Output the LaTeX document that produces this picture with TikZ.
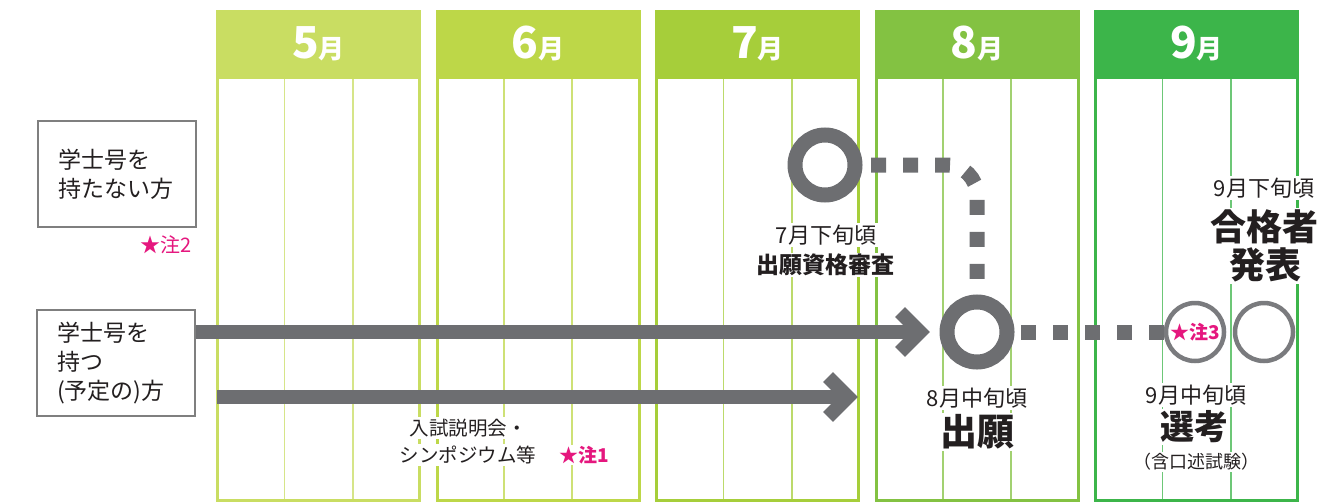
\documentclass[tikz,border=0pt]{standalone}
\usepackage{fontspec}
\setmainfont{Noto Sans CJK JP}
\usetikzlibrary{calc}
\definecolor{dg}{HTML}{6D6E71}
\definecolor{rg}{HTML}{7A7B7E}
\definecolor{bx}{HTML}{7F7F7F}
\definecolor{pk}{HTML}{E5177E}
\definecolor{tx}{HTML}{231F20}
\definecolor{cA}{HTML}{C9DD62}
\definecolor{cB}{HTML}{BDD748}
\definecolor{cC}{HTML}{A6CE3A}
\definecolor{cD}{HTML}{83C242}
\definecolor{cE}{HTML}{3CB54A}
\tikzset{
  monthlabel/.style={anchor=base, text=white, inner sep=0pt},
  sidebox/.style={draw=bx, line width=2.5pt, fill=white, minimum width=158pt, minimum height=106pt,
    text width=118pt, inner xsep=20pt, align=left, text=tx, font=\fontsize{23}{29}\selectfont},
  bar/.style={draw=dg, line width=14pt},
  ring/.style={circle, draw=dg, line width=15pt, minimum size=60pt, inner sep=0pt},
  thinring/.style={circle, draw=rg, line width=4.5pt, minimum size=58pt, inner sep=0pt},
  dots/.style={draw=dg, line width=15pt, dash pattern=on 15pt off 17pt},
  lbl/.style={fill=white, inner sep=1.5pt, text=tx},
  note/.style={fill=white, inner sep=1.5pt, text=pk}
}
\begin{document}
\begin{tikzpicture}[x=1pt, y=-1pt]
\useasboundingbox (0,0) rectangle (1329,503);
% month columns
\foreach \i/\m/\c in {0/5/cA,1/6/cB,2/7/cC,3/8/cD,4/9/cE} {
  \pgfmathsetmacro\xl{216+219.5*\i}
  \fill[\c] (\xl,10) rectangle ++(205,69);
  \draw[\c!75, line width=1.6pt] (\xl+68.3,79) -- (\xl+68.3,500.5) (\xl+136.7,79) -- (\xl+136.7,500.5);
  \draw[\c, line width=3pt] (\xl+1.5,79) -- (\xl+1.5,500.5) -- (\xl+203.5,500.5) -- (\xl+203.5,79);
  \node[monthlabel] (m\m) at (\xl+102.5,59) {\bfseries{\fontsize{44}{44}\selectfont\m}{\fontsize{26}{26}\selectfont 月}};
}
% side boxes
\node[sidebox] (b1) at (117,174) {学士号を\\持たない方};
\node[sidebox] (b2) at (116,363) {学士号を\\持つ\\(予定の)方};
\node[note, font=\fontsize{20}{20}\selectfont] (n2) at (166,245) {★注2};
% circles
\node[ring] (c1) at (825,165) {};
\node[ring] (c2) at (977,332) {};
\node[thinring] (c3) at (1195,332) {};
\node[thinring] (c4) at (1264,332) {};
% dotted connectors
\draw[dots, dash phase=23.5pt, rounded corners=30pt] (c1.east) -| (c2.north);
\draw[dots, dash phase=25.5pt] (c2.east) -- (c3.west);
% arrows
\coordinate (t1) at (930,332);
\coordinate (s2) at (217,397);
\coordinate (t2) at (858,397);
\draw[bar] (b2.east |- t1) -- ($(t1)+(-14,0)$);
\draw[bar, line join=miter] ($(t1)+(-30,-20)$) -- ($(t1)+(-10,0)$) -- ($(t1)+(-30,20)$);
\draw[bar] (s2) -- ($(t2)+(-14,0)$);
\draw[bar, line join=miter] ($(t2)+(-30,-20)$) -- ($(t2)+(-10,0)$) -- ($(t2)+(-30,20)$);
% labels
\node[lbl, font=\fontsize{22}{22}\selectfont] (d1) at (826,235) {7月下旬頃};
\node[lbl, font=\bfseries\fontsize{23}{23}\selectfont] (e1) at (825,265) {出願資格審査};
\node[lbl, font=\fontsize{22}{22}\selectfont] (d2) at (977,398) {8月中旬頃};
\node[lbl, font=\bfseries\fontsize{37}{37}\selectfont] (e2) at (977,432) {出願};
\node[lbl, font=\fontsize{22}{22}\selectfont] (d3) at (1196,395) {9月中旬頃};
\node[lbl, font=\bfseries\fontsize{34}{34}\selectfont] (e3) at (1194,427) {選考};
\node[lbl, font=\fontsize{18}{18}\selectfont] (f3) at (1196,462) {（含口述試験）};
\node[note, font=\bfseries\fontsize{19}{19}\selectfont, fill=none] (n3) at (c3) {★注3};
\node[lbl, font=\fontsize{22}{22}\selectfont] (d4) at (1264,188) {9月下旬頃};
\node[lbl, font=\bfseries\fontsize{36}{36}\selectfont] (e4) at (1264,227) {合格者};
\node[lbl, font=\bfseries\fontsize{36}{36}\selectfont] (e5) at (1265,265) {発表};
\node[lbl, font=\fontsize{19.5}{19.5}\selectfont] (a1) at (468,428) {入試説明会・};
\node[lbl, font=\fontsize{19.5}{19.5}\selectfont] (a2) at (468,455) {シンポジウム等};
\node[note, font=\bfseries\fontsize{19}{19}\selectfont] (n1) at (584,455) {★注1};
\end{tikzpicture}
\end{document}
